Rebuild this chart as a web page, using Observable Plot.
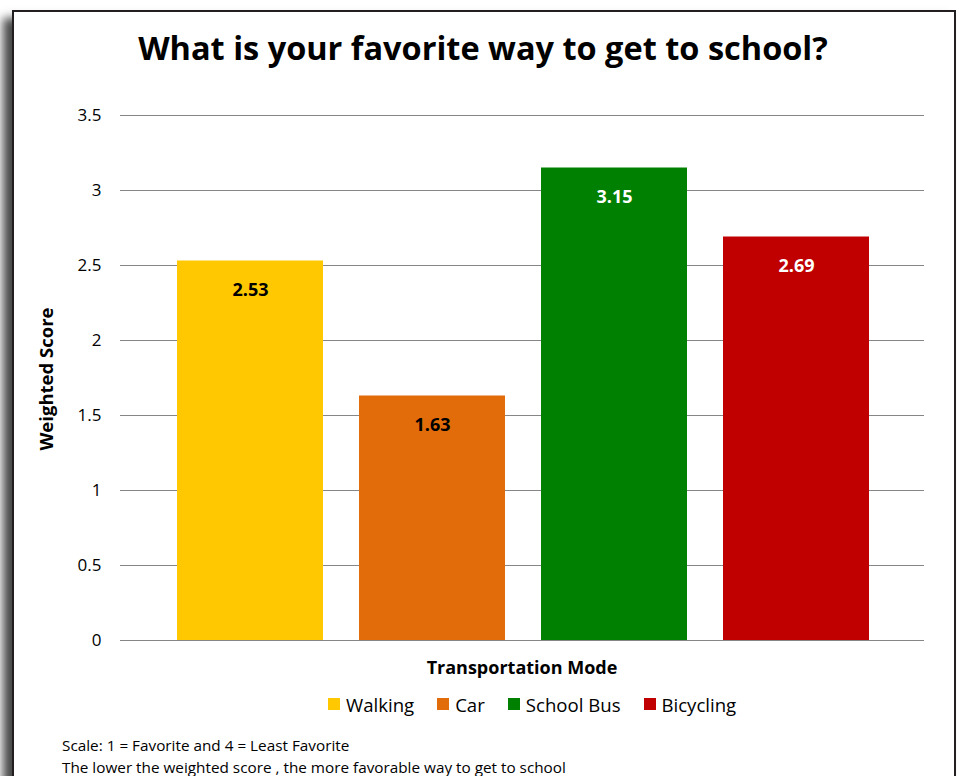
<!DOCTYPE html>
<html>
<head>
<meta charset="utf-8">
<script src="https://cdn.jsdelivr.net/npm/d3@7"></script>
<script src="https://cdn.jsdelivr.net/npm/@observablehq/plot@0.6"></script>
<style>
  html, body { margin: 0; padding: 0; background: #fff; width: 957px; height: 776px; overflow: hidden; }
  body { position: relative; font-family: "Open Sans", sans-serif; }
  #frame { position: absolute; left: 12px; top: 10px; width: 940px; height: 800px;
           border: 2px solid #231f20; box-shadow: -9px 8px 9px rgba(40,40,40,0.85); background: #fff; }
  #title { position: absolute; left: 0; width: 966px; top: 25px; text-align: center;
           font-weight: bold; font-size: 32.5px; color: #000; white-space: nowrap; }
  #chart { position: absolute; left: 0; top: 0; }
  #ytitle { position: absolute; left: 45px; top: 379px; transform: translate(-50%, -50%) rotate(-90deg);
            font-weight: bold; font-size: 18.5px; white-space: nowrap; }
  #xtitle { position: absolute; left: 522px; top: 655px; transform: translateX(-50%);
            font-weight: bold; font-size: 18px; white-space: nowrap; }
  #legend { position: absolute; left: 328px; top: 690px; height: 28px; display: flex; align-items: center;
            gap: 23px; font-size: 18.6px; white-space: nowrap; }
  #legend .item { display: flex; align-items: center; }
  #legend .sw { width: 12px; height: 12px; margin-right: 6px; display: inline-block; }
  #caption { position: absolute; left: 62px; top: 734px; font-size: 15.3px; line-height: 22px; color: #000; white-space: nowrap; }
</style>
</head>
<body>
<div id="frame"></div>
<div id="chart"></div>
<div id="title"></div>
<div id="ytitle"></div>
<div id="xtitle"></div>
<div id="legend"></div>
<div id="caption"></div>
<script>
const titleText = "What is your favorite way to get to school?";
const yLabel = "Weighted Score";
const xLabel = "Transportation Mode";
const categories = ["Walking", "Car", "School Bus", "Bicycling"];
const scores = [2.53, 1.63, 3.15, 2.69];
const colors = ["#FFC800", "#E36C0A", "#008000", "#C00000"];
const labelColors = ["#000000", "#000000", "#ffffff", "#ffffff"];
const yTicks = [0, 0.5, 1, 1.5, 2, 2.5, 3, 3.5];
const captionLines = ["Scale: 1 = Favorite and 4 = Least Favorite",
                      "The lower the weighted score , the more favorable way to get to school"];

const data = categories.map((c, i) => ({mode: c, score: scores[i], lc: labelColors[i]}));

document.getElementById("title").textContent = titleText;
document.getElementById("ytitle").textContent = yLabel;
document.getElementById("xtitle").textContent = xLabel;
document.getElementById("caption").innerHTML = captionLines.map(s => `<div>${s}</div>`).join("");

const chart = Plot.plot({
  width: 957,
  height: 680,
  marginLeft: 120,
  marginRight: 33,
  marginTop: 115,
  marginBottom: 40,
  style: {fontFamily: "Open Sans, sans-serif", fontSize: "17px", color: "#000", background: "transparent"},
  x: {domain: categories, paddingInner: 0.2, paddingOuter: 0.1, insetLeft: 38, insetRight: 37, axis: null},
  y: {domain: [0, 3.5], label: null},
  color: {domain: categories, range: colors},
  marks: [
    Plot.ruleY(yTicks, {stroke: "#868686", strokeWidth: 1}),
    Plot.axisY({ticks: yTicks, tickSize: 0, tickPadding: 19, tickFormat: d => String(d), fontSize: 17, label: null}),
    Plot.barY(data, {x: "mode", y: "score", fill: "mode"}),
    Plot.ruleY([0], {stroke: "#868686", strokeWidth: 1}),
    Plot.text(data, {x: "mode", y: "score", text: d => d.score.toFixed(2), fill: "lc", dy: 29,
                     fontWeight: "bold", fontSize: 18})
  ]
});
document.getElementById("chart").appendChild(chart);

const colorScale = chart.scale("color");
document.getElementById("legend").innerHTML = categories.map(c =>
  `<span class="item"><span class="sw" style="background:${colorScale.apply(c)}"></span>${c}</span>`).join("");
</script>
</body>
</html>
